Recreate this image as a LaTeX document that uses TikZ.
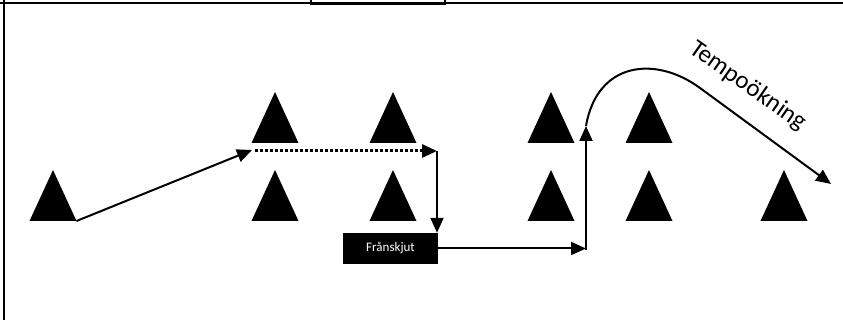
\documentclass[tikz,border=0pt]{standalone}
\usepackage{fontspec}
\setmainfont{Carlito}
\usetikzlibrary{arrows.meta}

% filled cone: name, apex x, apex y
\newcommand\cone[3]{%
  \fill (#2-23.5,#3+51) -- (#2,#3) -- (#2+23.5,#3+51) -- cycle;
  \coordinate (#1-l) at (#2-23.5,#3+51);
  \coordinate (#1-r) at (#2+23.5,#3+51);
}

\begin{document}
\begin{tikzpicture}[x=1pt,y=-1pt,
  run/.style={line width=2pt,-{Triangle[length=15pt,width=13pt]}},
  frame/.style={line width=2pt},
  label/.style={fill=black,text=white,font=\fontsize{13}{15}\selectfont,
    minimum width=95pt,minimum height=31pt,inner sep=0pt}]
\useasboundingbox (0,0) rectangle (843,320);

% page frame and table edge
\draw[frame] (0,3.5) -- (843,3.5);
\draw[line width=2.5pt] (311,4) -- (445,4);
\draw[frame] (311,0) -- (311,5);
\draw[frame] (445,0) -- (445,5);
\draw[frame] (4,0) -- (4,320);

% cones, upper row
\cone{a1}{275}{92}
\cone{a2}{393}{92}
\cone{a3}{551}{92}
\cone{a4}{649}{92}
% cones, lower row
\cone{b0}{53}{170}
\cone{b1}{275}{170}
\cone{b2}{393}{170}
\cone{b3}{551}{170}
\cone{b4}{649}{170}
\cone{b5}{784}{170}

% pass marker
\node[label] (box) at (390.5,248.5) {Frånskjut};

% route points
\coordinate (p1) at (252,150);
\coordinate (p2) at (255,151);
\coordinate (p3) at (437,151);
\coordinate (p4) at (586,250);
\coordinate (p5) at (586,126);
\coordinate (p6) at (700,88);
\coordinate (p7) at (831,184);

\draw[run] (b0-r) -- (p1);
\draw[run,line width=3pt,dash pattern=on 3pt off 2pt] (p2) -- (p3);
\draw[run] (p3) -- (box.north east -| p3);
\draw[run] (box.east) -- (box.east -| p4);
\draw[run] (p4) -- (p5);
\draw[run] (p5) .. controls (597,62) and (655,55) .. (p6) -- (p7);

\node[font=\fontsize{25}{28}\selectfont,rotate=-35] (tempo) at (748,86) {Tempoökning};
\end{tikzpicture}
\end{document}
